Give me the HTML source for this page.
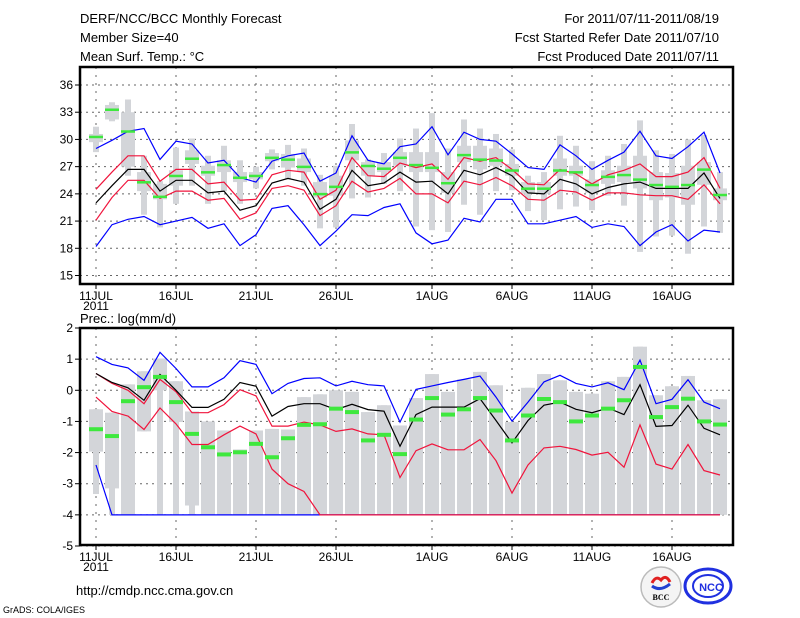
<!DOCTYPE html>
<html><head><meta charset="utf-8"><style>
html,body{margin:0;padding:0;background:#fff;}
svg{display:block;font-family:"Liberation Sans",sans-serif;}
</style></head><body>
<svg id="chart" width="800" height="618" viewBox="0 0 800 618" xmlns="http://www.w3.org/2000/svg">
<g font-size="13" fill="#000">
<text x="80" y="23">DERF/NCC/BCC Monthly Forecast</text>
<text x="80" y="42">Member Size=40</text>
<text x="80" y="61">Mean Surf. Temp.: °C</text>
<text x="719" y="23" text-anchor="end">For 2011/07/11-2011/08/19</text>
<text x="719" y="42" text-anchor="end">Fcst Started Refer Date 2011/07/10</text>
<text x="719" y="61" text-anchor="end">Fcst Produced Date 2011/07/11</text>
<text x="80" y="323" font-size="13">Prec.: log(mm/d)</text>
<text x="76" y="595" font-size="13">http://cmdp.ncc.cma.gov.cn</text>
<text x="3" y="613" font-size="9">GrADS: COLA/IGES</text>
</g>
<g id="top"></g>
<g id="bot"></g>
<g>
<circle cx="661" cy="587" r="20" fill="#f4f4f4" stroke="#bbb" stroke-width="1.5"/>
<path d="M652 583 q4 -8 9 -3 q5 -6 9 2" fill="none" stroke="#e02020" stroke-width="3"/>
<path d="M652 586 q8 6 18 -2" fill="none" stroke="#2040d0" stroke-width="3"/>
<text x="661" y="600" font-size="8" text-anchor="middle" font-family="Liberation Serif,serif" font-weight="bold">BCC</text>
<ellipse cx="708" cy="586" rx="23" ry="17" fill="#fff" stroke="#2030e0" stroke-width="3"/>
<ellipse cx="708" cy="586" rx="15" ry="11" fill="none" stroke="#2030e0" stroke-width="2"/>
<text x="711" y="591" font-size="11" fill="#2030e0" font-weight="bold" text-anchor="middle">NCC</text>
</g>
</svg>
<script>
// ---- Temperature data (°C) ----
const tObs   = [30.3,33.3,30.9,25.3,23.7,26.0,27.9,26.4,27.2,25.8,26.0,28.0,27.8,27.0,24.0,24.8,28.6,27.1,26.8,28.0,27.2,26.9,25.2,28.3,27.8,27.7,26.6,24.6,24.6,26.6,26.4,25.0,25.9,26.1,25.6,25.0,24.8,25.0,26.7,23.9];
const tBlueHi= [29.0,29.9,30.9,31.2,27.8,29.8,29.5,27.4,27.7,25.8,25.3,27.6,28.2,28.5,25.4,26.3,30.4,27.7,27.3,29.2,29.5,31.4,28.3,30.8,30.0,29.8,28.4,26.9,26.7,29.4,28.2,26.7,27.7,28.6,30.9,28.2,27.9,29.2,30.8,26.3];
const tRedHi = [24.5,26.4,28.2,28.2,25.4,26.7,26.7,25.1,25.3,23.3,23.4,26.1,26.6,26.4,23.4,24.4,28.0,26.0,25.9,27.4,26.9,27.3,25.6,28.0,27.6,28.0,26.7,25.1,25.0,26.7,26.2,25.1,26.1,26.6,27.3,25.9,25.9,26.4,28.0,24.6];
const tMean  = [23.0,24.9,26.7,26.7,24.3,25.5,25.5,24.1,24.3,22.2,22.7,25.2,25.7,25.3,22.3,23.4,26.6,24.9,25.2,26.4,25.3,25.4,24.0,26.6,26.1,26.9,26.0,24.1,24.0,25.6,25.1,24.0,24.7,25.1,25.3,24.6,24.6,24.6,26.3,23.5];
const tRedLo = [21.1,23.6,25.5,25.5,23.5,24.3,24.3,23.3,23.5,21.2,21.9,24.6,24.9,24.4,21.6,22.7,25.4,24.2,24.6,25.7,24.0,24.0,23.0,25.4,25.0,25.8,24.9,23.4,23.3,24.4,24.2,23.3,24.1,24.1,23.9,23.8,23.8,23.4,25.0,22.9];
const tBlueLo= [18.2,20.6,21.2,21.5,20.6,21.0,21.4,20.2,20.7,18.3,19.5,22.4,22.7,20.6,18.3,19.9,21.7,21.6,22.5,22.9,19.7,18.5,18.9,21.3,20.9,23.4,23.4,20.7,20.7,21.1,21.5,20.3,20.7,20.4,18.3,19.8,20.6,18.8,20.0,19.8];
const tWhHi  = [31.4,34.1,34.4,28.2,25.4,29.1,30.1,28.2,29.3,27.7,27.0,28.9,29.4,29.0,26.1,27.1,31.7,27.8,28.5,30.1,31.2,32.9,29.0,32.2,31.2,30.6,28.9,26.0,26.4,30.4,29.3,27.6,28.2,29.5,32.1,28.8,28.4,30.0,30.5,26.4];
const tWhLo  = [28.6,32.0,26.0,21.7,20.3,22.9,24.9,22.9,24.3,22.9,24.6,26.7,25.6,24.9,20.2,20.3,23.5,23.6,25.1,24.3,20.4,20.0,19.8,22.8,21.7,24.3,24.4,22.1,21.1,22.3,22.6,22.2,23.8,22.7,17.6,19.3,19.4,17.4,20.4,19.7];
const tBoxHi = [30.6,33.8,33.0,26.4,25.1,26.6,28.8,27.1,27.7,26.4,26.4,28.5,28.4,27.9,25.3,26.0,29.9,27.5,27.5,28.6,28.6,28.6,26.4,29.3,29.3,29.0,27.3,25.3,25.3,27.9,27.1,25.6,26.6,27.1,28.2,26.4,26.3,27.1,27.5,24.6];
const tBoxLo = [29.7,32.2,27.0,24.3,23.4,24.9,27.3,26.0,26.4,25.3,25.6,27.6,26.9,26.4,23.6,23.8,27.7,26.0,26.4,27.1,26.4,26.4,24.1,27.5,26.7,27.1,26.0,24.0,24.0,26.0,26.0,24.1,25.1,25.3,24.6,23.3,23.6,22.8,25.0,23.3];
const tTicks = [15,18,21,24,27,30,33,36];
// ---- Precipitation data log(mm/d) ----
const pObs   = [-1.25,-1.47,-0.35,0.10,0.43,-0.38,-1.40,-1.83,-2.06,-1.99,-1.72,-2.15,-1.54,-1.11,-1.09,-0.59,-0.70,-1.61,-1.43,-2.05,-0.94,-0.25,-0.78,-0.61,-0.25,-0.65,-1.61,-0.81,-0.28,-0.38,-1.0,-0.81,-0.59,-0.32,0.75,-0.86,-0.54,-0.27,-1.0,-1.10];
const pBlueHi= [1.08,0.83,0.72,0.32,1.22,0.70,0.11,0.11,0.40,0.95,0.83,-0.11,0.22,0.38,0.40,0.14,0.29,0.18,0.14,-1.02,0.03,0.14,0.25,0.35,0.46,-0.22,-0.99,-0.38,0.27,0.48,0.22,0.11,0.24,0.02,0.97,-0.43,-0.29,0.34,-0.38,-0.59];
const pMean  = [0.54,0.25,0.08,-0.32,0.51,0.0,-0.55,-0.55,-0.29,0.25,0.13,-0.83,-0.52,-0.43,-0.43,-0.62,-0.45,-0.62,-0.67,-1.80,-0.78,-0.54,-0.54,-0.54,-0.27,-0.97,-1.69,-0.97,-0.48,-0.38,-0.61,-0.72,-0.57,-0.78,0.18,-1.16,-1.13,-0.48,-1.22,-1.43];
const pRedHi = [0.54,0.22,0.0,-0.43,0.35,-0.05,-0.72,-0.72,-0.46,0.02,-0.18,-1.15,-1.15,-1.02,-1.11,-1.32,-1.24,-1.40,-1.43,-2.80,-1.94,-1.72,-1.91,-1.91,-1.58,-2.26,-3.30,-2.40,-1.85,-1.80,-1.90,-2.08,-1.99,-2.47,-1.11,-2.37,-2.53,-1.74,-2.58,-2.72];
const pRedLo = [-0.22,-0.68,-0.83,-1.26,-0.57,-1.08,-1.74,-1.74,-1.43,-1.15,-1.40,-2.53,-3.0,-3.25,-4.0,-4.5,-4.5,-4.5,-4.5,-4.5,-4.5,-4.5,-4.5,-4.5,-4.5,-4.5,-4.5,-4.5,-4.5,-4.5,-4.5,-4.5,-4.5,-4.5,-4.5,-4.5,-4.5,-4.5,-4.5,-4.5];
const pBlueLo= [-2.4,-4.5,-4.5,-4.5,-4.5,-4.5,-4.5,-4.5,-4.5,-4.5,-4.5,-4.5,-4.5,-4.5,-4.5,-4.5,-4.5,-4.5,-4.5,-4.5,-4.5,-4.5,-4.5,-4.5,-4.5,-4.5,-4.5,-4.5,-4.5,-4.5,-4.5,-4.5,-4.5,-4.5,-4.5,-4.5,-4.5,-4.5,-4.5,-4.5];
const pBarHi = [-0.61,-0.72,0.19,0.61,1.02,0.29,-0.68,-1.0,-1.29,-1.9,-1.29,-1.24,-1.26,-0.22,-0.13,0.0,-0.05,-0.7,-0.48,-1.13,-0.25,0.52,-0.05,0.35,0.59,0.16,-1.02,0.08,0.52,0.32,-0.05,-0.11,0.29,0.43,1.4,-0.16,0.13,0.46,-0.32,-0.29];
const pBarLo = [-3.33,-4,-4,-1.32,-4,-4,-4,-4,-4,-4,-4,-4,-4,-4,-4,-4,-4,-4,-4,-4,-4,-4,-4,-4,-4,-4,-4,-4,-4,-4,-4,-4,-4,-4,-4,-4,-4,-4,-4,-4];
const pWideLo= [-1.97,-3.15,-4,-1.32,0.0,-1.02,-3.7,-4,-4,-4,-4,-4,-4,-4,-4,-4,-4,-4,-4,-4,-4,-4,-4,-4,-4,-4,-4,-4,-4,-4,-4,-4,-4,-4,-4,-4,-4,-4,-4,-4];
const pTicks = [-5,-4,-3,-2,-1,0,1,2];
const dateLabels = ["11JUL","16JUL","21JUL","26JUL","1AUG","6AUG","11AUG","16AUG"];
const dateIdx = [0,5,10,15,21,26,31,36];

const NS="http://www.w3.org/2000/svg";
const L=80,R=733;
const xs=i=>96+16*i;
const yT=v=>85+(36-v)*(190.5/21);
const yP=v=>328+(2-v)*(218/7);
function mk(parent,tag,attrs){const e=document.createElementNS(NS,tag);for(const k in attrs)e.setAttribute(k,attrs[k]);parent.appendChild(e);return e;}

function panel(g,top,bot,ticks,yf){
  ticks.forEach(t=>{
    const y=yf(t);
    const gl=mk(g,'line',{x1:L,x2:R,y1:y,y2:y,stroke:'#666','stroke-dasharray':'2,4','stroke-width':1});
    
    
    const tk=mk(g,'line',{x1:L-5,x2:L,y1:y,y2:y,stroke:'#000'});
    
    
    const tx=mk(g,'text',{x:L-7,y:y+4,'font-size':12,'text-anchor':'end'});
    tx.textContent=t;
    
    
  });
  dateIdx.forEach((d,k)=>{
    const x=xs(d);
    const vl=mk(g,'line',{x1:x,x2:x,y1:top,y2:bot,stroke:'#666','stroke-dasharray':'2,6','stroke-width':1});
    
    
    const tk=mk(g,'line',{x1:x,x2:x,y1:bot,y2:bot+5,stroke:'#000'});
    
    
    const tx=mk(g,'text',{x:x,y:bot+16,'font-size':12,'text-anchor':'middle'});
    tx.textContent=dateLabels[k];
    
    
  });
  const yr=mk(g,'text',{x:xs(0),y:bot+26,'font-size':12,'text-anchor':'middle'});
  yr.textContent='2011';
  
  
}
function line(g,arr,yf,color,name,lo){
  const pts=arr.map((v,i)=>xs(i)+','+yf(Math.max(v,lo)).toFixed(1)).join(' ');
  const p=mk(g,'polyline',{points:pts,fill:'none',stroke:color,'stroke-width':1.2});
  
  
}
function frame(g,top,bot){
  const f=mk(g,'rect',{x:L,y:top,width:R-L,height:bot-top,fill:'none',stroke:'#000','stroke-width':2.5});
  
  
}

const gT=document.getElementById('top');
const TT=67,TB=284;
panel(gT,TT,TB,tTicks,yT);
tObs.forEach((v,i)=>{
  const x=xs(i);
  const w=mk(gT,'rect',{x:x-3,y:yT(tWhHi[i]),width:6,height:yT(tWhLo[i])-yT(tWhHi[i]),fill:'#d3d5d9'});
  
  
  const b=mk(gT,'rect',{x:x-7,y:yT(tBoxHi[i]),width:14,height:yT(tBoxLo[i])-yT(tBoxHi[i]),fill:'#d3d5d9'});
  
  
});
line(gT,tBlueHi,yT,'#0000ff','blue-upper-line',-99);
line(gT,tBlueLo,yT,'#0000ff','blue-lower-line',-99);
line(gT,tRedHi,yT,'#f0143c','red-upper-line',-99);
line(gT,tRedLo,yT,'#f0143c','red-lower-line',-99);
line(gT,tMean,yT,'#000','mean-line',-99);
tObs.forEach((v,i)=>{
  const o=mk(gT,'rect',{x:xs(i)-7,y:yT(v)-1,width:14,height:2.5,fill:'#3ee83e'});
  
  
});
frame(gT,TT,TB);

const gB=document.getElementById('bot');
const BT=328,BB=545;
panel(gB,BT,BB,pTicks,yP);
pObs.forEach((v,i)=>{
  const x=xs(i);
  const w=mk(gB,'rect',{x:x-3,y:yP(pBarHi[i]),width:6,height:yP(pBarLo[i])-yP(pBarHi[i]),fill:'#d3d5d9'});
  
  
  const hi=pBarHi[i],lo=Math.min(pWideLo[i],hi);
  const b=mk(gB,'rect',{x:x-7,y:yP(hi),width:14,height:yP(lo)-yP(hi),fill:'#d3d5d9'});
  
  
});
line(gB,pBlueHi,yP,'#0000ff','blue-upper-line',-4);
line(gB,pBlueLo,yP,'#0000ff','blue-lower-line',-4);
line(gB,pRedHi,yP,'#f0143c','red-upper-line',-4);
line(gB,pRedLo,yP,'#f0143c','red-lower-line',-4);
line(gB,pMean,yP,'#000','mean-line',-4);
pObs.forEach((v,i)=>{
  const o=mk(gB,'rect',{x:xs(i)-7,y:yP(v)-2,width:14,height:4,fill:'#3ee83e'});
  
  
});
frame(gB,BT,BB);
</script>
</body></html>
